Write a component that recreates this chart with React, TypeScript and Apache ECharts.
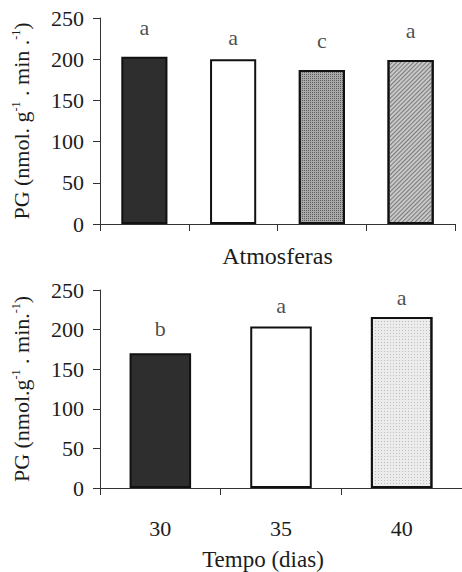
import React, { useEffect, useRef } from "react";
import * as echarts from "echarts";

const atmosferas = ["1", "2", "3", "4"];
const pgAtmosferas = [203, 200, 187, 199];
const letrasAtmosferas = ["a", "a", "c", "a"];
const letraYAtmosferas = [238, 226, 223, 235];

const tempos = ["30", "35", "40"];
const pgTempo = [170, 204, 216];
const letrasTempo = ["b", "a", "a"];
const letraYTempo = [201, 231, 241];

const FONT = "Liberation Serif";
const INK = "#1c1c1c";

const fillsAtmos = [
  { color: "#2e2e2e" },
  { color: "#ffffff" },
  {
    color: "#a8a8a8",
    decal: { symbol: "rect", symbolSize: 1, color: "#5e5e5e", dashArrayX: [1, 1], dashArrayY: [1, 1] },
  },
  {
    color: "#c8c8c8",
    decal: { symbol: "rect", symbolSize: 1, color: "#7a7a7a", dashArrayX: [1, 0], dashArrayY: [1, 1.5], rotation: -Math.PI / 4 },
  },
];
const fillsTempo = [
  { color: "#2e2e2e" },
  { color: "#ffffff" },
  {
    color: "#ececec",
    decal: { symbol: "rect", symbolSize: 1, color: "#bdbdbd", dashArrayX: [1, 2], dashArrayY: [1, 2] },
  },
];

function yName(sep1: string, sep2: string) {
  return `{a|PG (nmol.${sep1}g}{s|-1}{a| . min${sep2}.}{s|-1}{a|)}`;
}

const nameRich = {
  a: { fontFamily: FONT, fontSize: 22, color: INK, lineHeight: 22 },
  s: { fontFamily: FONT, fontSize: 12, color: INK, lineHeight: 22, verticalAlign: "top" },
};

export default function App() {
  const ref = useRef<HTMLDivElement>(null);
  useEffect(() => {
    if (!ref.current) return;
    const chart = echarts.init(ref.current, null, { renderer: "svg" });
    const axisLine = { show: true, lineStyle: { color: "#333", width: 1 } };
    const yAxisCommon = (gridIndex: number, name: string) => ({
      type: "value",
      gridIndex,
      min: 0,
      max: 250,
      interval: 50,
      axisLine,
      axisTick: { show: true, inside: false, length: 7, lineStyle: { color: "#333" } },
      splitLine: { show: false },
      axisLabel: { fontFamily: FONT, fontSize: 22, color: INK, margin: 16 },
      name,
      nameLocation: "middle",
      nameRotate: 90,
      nameGap: 68,
      nameTextStyle: { rich: nameRich },
    });
    chart.setOption({
      animation: false,
      backgroundColor: "#ffffff",
      grid: [
        { left: 100, top: 18, width: 355, height: 206 },
        { left: 100, top: 290, width: 362, height: 198 },
      ],
      xAxis: [
        {
          type: "category",
          gridIndex: 0,
          data: atmosferas,
          axisLine,
          axisTick: { show: true, length: 7, lineStyle: { color: "#333" } },
          axisLabel: { show: false },
          name: "Atmosferas",
          nameLocation: "middle",
          nameGap: 20,
          nameTextStyle: { fontFamily: FONT, fontSize: 24, color: INK },
        },
        {
          type: "category",
          gridIndex: 1,
          data: tempos,
          axisLine,
          axisTick: { show: true, length: 7, lineStyle: { color: "#333" } },
          axisLabel: { fontFamily: FONT, fontSize: 22, color: INK, margin: 29 },
          name: "Tempo (dias)",
          nameLocation: "middle",
          nameGap: 60,
          nameTextStyle: { fontFamily: FONT, fontSize: 23, color: INK, padding: [0, 36, 0, 0] },
        },
      ],
      yAxis: [yAxisCommon(0, yName(" ", " ")), yAxisCommon(1, yName("", ""))],
      series: [
        {
          type: "bar",
          xAxisIndex: 0,
          yAxisIndex: 0,
          barWidth: "52%",
          data: pgAtmosferas.map((v, i) => ({
            value: v,
            itemStyle: { ...fillsAtmos[i], borderColor: "#111", borderWidth: 2 },
          })),
        },
        {
          type: "scatter",
          xAxisIndex: 0,
          yAxisIndex: 0,
          symbolSize: 1,
          itemStyle: { color: "rgba(0,0,0,0)" },
          label: {
            show: true,
            position: "inside",
            fontFamily: FONT,
            fontSize: 22,
            color: INK,
            formatter: (p: any) => letrasAtmosferas[p.dataIndex],
          },
          data: letraYAtmosferas,
        },
        {
          type: "bar",
          xAxisIndex: 1,
          yAxisIndex: 1,
          barWidth: "51%",
          data: pgTempo.map((v, i) => ({
            value: v,
            itemStyle: { ...fillsTempo[i], borderColor: "#111", borderWidth: 2 },
          })),
        },
        {
          type: "scatter",
          xAxisIndex: 1,
          yAxisIndex: 1,
          symbolSize: 1,
          itemStyle: { color: "rgba(0,0,0,0)" },
          label: {
            show: true,
            position: "inside",
            fontFamily: FONT,
            fontSize: 22,
            color: INK,
            formatter: (p: any) => letrasTempo[p.dataIndex],
          },
          data: letraYTempo,
        },
      ],
    });
    return () => chart.dispose();
  }, []);
  return (
    <div
      ref={ref}
      style={{ position: "absolute", left: 0, top: 0, width: 462, height: 572, background: "#fff" }}
    />
  );
}
